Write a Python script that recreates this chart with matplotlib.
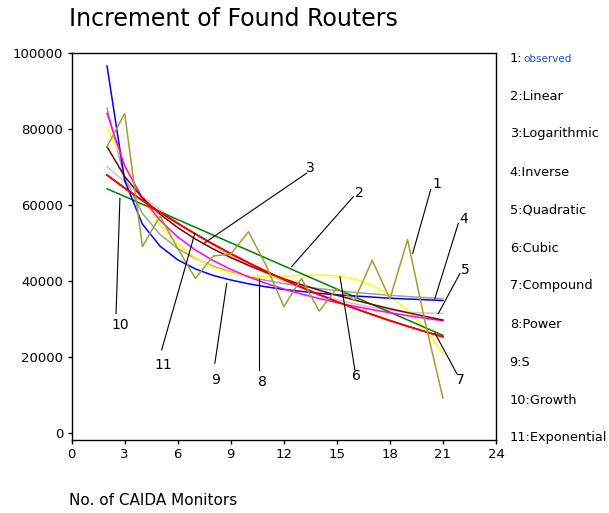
import matplotlib
matplotlib.use("Agg")
import matplotlib.pyplot as plt

monitors = list(range(2, 22))

observed = [75300, 84000, 49000, 57000, 48500, 40600, 46500, 47000, 52900, 44000,
            33200, 40600, 32000, 38000, 34900, 45400, 35200, 50800, 29000, 9100]
linear = [64200, 62170, 60140, 58110, 56080, 54050, 52020, 49990, 47960, 45930,
          43900, 41870, 39840, 37810, 35780, 33750, 31720, 29690, 27660, 25630]
logarithmic = [75260, 67400, 61820, 57490, 53960, 50960, 48380, 46090, 44050, 42200,
               40510, 38960, 37520, 36190, 34930, 33760, 32650, 31600, 30610, 29660]
inverse = [85350, 66910, 57690, 52160, 48470, 45830, 43860, 42320, 41090, 40090,
           39250, 38540, 37930, 37410, 36940, 36540, 36180, 35850, 35560, 35300]
quadratic = [70000, 66000, 62220, 58660, 55310, 52190, 49280, 46590, 44120, 41870,
             39840, 38030, 36440, 35060, 33910, 32970, 32250, 31750, 31470, 31410]
cubic = [80400, 70800, 61600, 54700, 49650, 46000, 43540, 42040, 41290, 41080,
         41190, 41400, 41500, 41270, 40500, 38800, 36000, 32200, 27200, 20900]
compound = [67800, 64370, 61110, 58010, 55080, 52290, 49640, 47120, 44740, 42470,
            40320, 38280, 36340, 34500, 32750, 31100, 29520, 28030, 26610, 25260]
power = [84050, 70160, 61720, 55880, 51510, 48090, 45320, 43000, 41030, 39320,
         37820, 36500, 35320, 34250, 33280, 32390, 31580, 30820, 30120, 29480]
s_curve = [96500, 66300, 54900, 49100, 45500, 43100, 41400, 40200, 39200, 38400,
           37700, 37200, 36700, 36300, 36000, 35700, 35400, 35200, 35000, 34800]
growth = compound
exponential = compound

legend_names = ["Linear", "Logarithmic", "Inverse", "Quadratic", "Cubic", "Compound",
                "Power", "S", "Growth", "Exponential"]

# (label, text x, text y, line start, line end) in data units
callouts = [
    ("1", 20.64, 65400, (20.31, 64000), (19.29, 47200)),
    ("2", 16.27, 63200, (15.93, 62100), (12.44, 43700)),
    ("3", 13.52, 69700, (13.29, 68300), (7.44, 49700)),
    ("4", 22.15, 56200, (21.87, 55100), (20.55, 35400)),
    ("5", 22.25, 42800, (21.96, 41900), (20.74, 31400)),
    ("6", 16.08, 14900, (16.02, 16500), (15.18, 41000)),
    ("7", 21.96, 13900, (21.78, 15600), (20.55, 26200)),
    ("8", 10.78, 13400, (10.59, 16500), (10.59, 40400)),
    ("9", 8.14, 13900, (8.10, 18300), (8.77, 39300)),
    ("10", 2.73, 28300, (2.51, 31400), (2.73, 61700)),
    ("11", 5.18, 17800, (5.09, 21800), (6.97, 52500)),
]

fig = plt.figure(figsize=(6.09, 5.13), dpi=100)
ax = fig.add_axes([0.1177, 0.1423, 0.6967, 0.755])

lw = 1.1
ax.plot(monitors, quadratic, color="#c8c8c8", lw=lw)
ax.plot(monitors, inverse, color="#a0a0a0", lw=lw)
ax.plot(monitors, cubic, color="#ffff00", lw=lw)
ax.plot(monitors, linear, color="#008000", lw=lw)
ax.plot(monitors, s_curve, color="#0000ff", lw=lw)
ax.plot(monitors, power, color="#ff00ff", lw=lw)
ax.plot(monitors, logarithmic, color="#800000", lw=lw)
ax.plot(monitors, compound, color="#ff0000", lw=lw)
ax.plot(monitors, growth, color="#ff0000", lw=lw)
ax.plot(monitors, exponential, color="#ff0000", lw=lw)
ax.plot(monitors, observed, color="#a0a030", lw=lw)

for lab, tx, ty, p0, p1 in callouts:
    ax.plot([p0[0], p1[0]], [p0[1], p1[1]], color="black", lw=0.8)
    ax.text(tx, ty, lab, fontsize=10, ha="center", va="center")

ax.set_xlim(0, 24)
ax.set_ylim(-1900, 100000)
ax.set_xticks(range(0, 25, 3))
ax.set_yticks(range(0, 100001, 20000))
ax.tick_params(direction="out", length=3, width=1, labelsize=9.5, pad=3)
for sp in ax.spines.values():
    sp.set_linewidth(1.0)

fig.text(0.113, 0.963, "Increment of Found Routers", fontsize=17, ha="left", va="center")
fig.text(0.113, 0.025, "No. of CAIDA Monitors", fontsize=11, ha="left", va="center")

# right side key
top_y = 1 - 58 / 513
step = 38 / 513
fig.text(0.837, top_y, "1:", fontsize=9.3, ha="left", va="center")
fig.text(0.860, top_y - 0.002, "observed", fontsize=7.5, color="#1f4fbf", ha="left", va="center")
for i, name in enumerate(legend_names):
    fig.text(0.837, top_y - step * (i + 1), f"{i + 2}:{name}", fontsize=9.3,
             ha="left", va="center")

fig.savefig("out.png", dpi=100)
